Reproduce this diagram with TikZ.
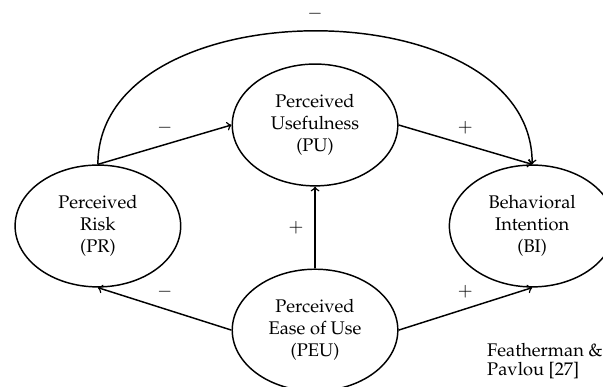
\documentclass[tikz,border=0pt]{standalone}
\usepackage[T1]{fontenc}
\usepackage{mathpazo}
\usetikzlibrary{shapes.geometric}

\tikzset{
  construct/.style={ellipse, draw, thick, minimum width=3.18cm,
    minimum height=2.34cm, inner sep=0pt, align=center},
  link/.style={->, thick},
  effect/.style={midway, above=2pt},
}

\begin{document}
\begin{tikzpicture}
    \useasboundingbox (-6.05,-5.03) rectangle (5.53,2.40);
        % constructs
        \node[construct] (pu) at (0,0) {Perceived\\Usefulness\\(PU)};
        \node[construct] (pr) at (-4.17,-1.94) {Perceived\\Risk\\(PR)};
        \node[construct] (bi) at (4.17,-1.94) {Behavioral\\Intention\\(BI)};
        \node[construct] (peu) at (0,-3.94) {Perceived\\Ease of Use\\(PEU)};
        % source
        \node[anchor=west, inner sep=0pt, align=left] (src) at (3.30,-4.53)
            {Featherman \&\\[-1.5pt]Pavlou [27]};
        % effects
        \draw[link] (pr.north) -- node[effect] {$-$} (pu.west);
        \draw[link] (pu.east) -- node[effect] {$+$} (bi.north);
        \draw[link] (pr.north) to[out=90, in=90, looseness=1.05]
            node[effect] {$-$} (bi.north);
        \draw[link] (peu.north) -- node[midway, left=2.5pt] {$+$} (pu.south);
        \draw[link] (peu.west) -- node[effect] {$-$} (pr.south);
        \draw[link] (peu.east) -- node[effect] {$+$} (bi.south);
\end{tikzpicture}
\end{document}
